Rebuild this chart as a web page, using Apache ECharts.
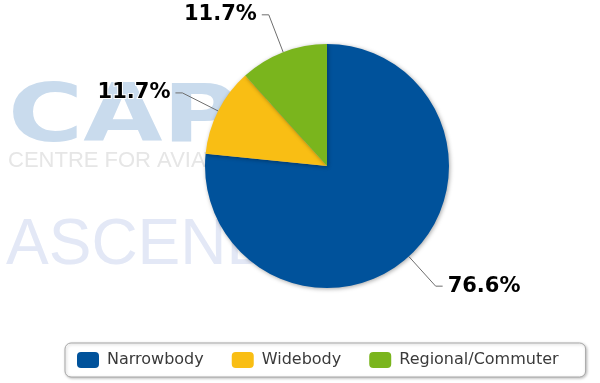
<!DOCTYPE html>
<html>
<head>
<meta charset="utf-8">
<script src="https://cdn.jsdelivr.net/npm/echarts@6/dist/echarts.min.js"></script>
<style>
html, body { margin: 0; padding: 0; background: #fff; }
#main { width: 600px; height: 383px; }
</style>
</head>
<body>
<div id="main"></div>
<script>
var categories = ['Narrowbody', 'Widebody', 'Regional/Commuter'];
var shares = [76.6, 11.7, 11.7];
var colors = ['#00529b', '#f9be14', '#7ab51d'];

var myChart = echarts.init(document.getElementById('main'));
var option = {
    animation: false,
    color: colors,
    // faint watermark behind the pie
    graphic: [
        {
            type: 'text', x: 8, y: 80, scaleX: 1.28, z: -10, silent: true,
            style: { text: 'CAPA', font: 'bold 80px "DejaVu Sans"', fill: '#c9dbed' }
        },
        {
            type: 'text', x: 8, y: 150, z: -10, silent: true,
            style: { text: 'CENTRE FOR AVIATION', font: '22px "Liberation Sans"', fill: '#e6e6e6' }
        },
        {
            type: 'text', x: 6, y: 214, z: -10, silent: true,
            style: { text: 'ASCEND', font: '64px "Liberation Sans"', fill: '#e3e8f6' }
        }
    ],
    legend: {
        data: categories,
        left: 65,
        top: 343,
        orient: 'horizontal',
        icon: 'roundRect',
        itemWidth: 22,
        itemHeight: 16,
        itemGap: 28,
        padding: [9, 27, 9, 12],
        borderColor: '#a8a8a8',
        borderWidth: 1,
        borderRadius: 6,
        shadowColor: 'rgba(0,0,0,0.25)',
        shadowBlur: 3,
        shadowOffsetX: 1,
        shadowOffsetY: 1,
        backgroundColor: '#fff',
        textStyle: {
            fontFamily: 'DejaVu Sans',
            fontSize: 16,
            color: '#3a3a3a',
            padding: [0, 0, 0, 3]
        }
    },
    series: [
        {
            name: 'Fleet',
            type: 'pie',
            center: [327, 166],
            radius: 122,
            startAngle: 90,
            clockwise: true,
            avoidLabelOverlap: false,
            itemStyle: {
                shadowColor: 'rgba(0,0,0,0.35)',
                shadowBlur: 4,
                shadowOffsetX: 1,
                shadowOffsetY: 1
            },
            label: {
                show: true,
                position: 'outside',
                formatter: '{c}%',
                fontFamily: 'DejaVu Sans',
                fontWeight: 'bold',
                fontSize: 21,
                color: '#000',
                textBorderColor: '#fff',
                textBorderWidth: 2
            },
            labelLine: {
                show: true,
                length: 40,
                length2: 7,
                lineStyle: { color: '#6e6e6e', width: 1 }
            },
            data: categories.map(function (name, i) {
                return { name: name, value: shares[i] };
            })
        }
    ]
};
myChart.setOption(option);
</script>
</body>
</html>
